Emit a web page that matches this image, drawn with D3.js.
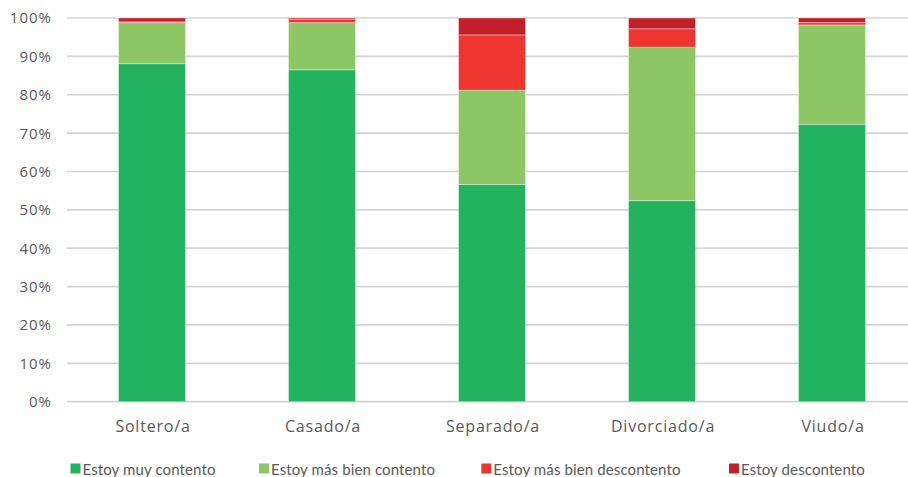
<!DOCTYPE html>
<html>
<head>
<meta charset="utf-8">
<script src="https://cdn.jsdelivr.net/npm/d3@7"></script>
<style>
	body { margin: 0; background: #fff; }
	svg { display: block; }
</style>
</head>
<body>
<div id="chart"></div>
<script>
const categories = ["Soltero/a", "Casado/a", "Separado/a", "Divorciado/a", "Viudo/a"];
const seriesNames = ["Estoy muy contento", "Estoy más bien contento", "Estoy más bien descontento", "Estoy descontento"];
const muyContento = [88.1, 86.5, 56.6, 52.4, 72.3];
const masBienContento = [10.7, 12.3, 24.6, 40.0, 25.9];
const masBienDescontento = [0.2, 0.9, 14.4, 4.8, 0.6];
const descontento = [1.0, 0.3, 4.4, 2.8, 1.2];
const yTicks = [0, 10, 20, 30, 40, 50, 60, 70, 80, 90, 100];
const colors = ["#23b35f", "#8cc665", "#ee3530", "#c1202a"];

(function() {
	const width = 908, height = 477;
	const svg = d3.select("#chart").append("svg").attr("width", width).attr("height", height);

	const rows = categories.map((c, i) => ({
		cat: c,
		[seriesNames[0]]: muyContento[i],
		[seriesNames[1]]: masBienContento[i],
		[seriesNames[2]]: masBienDescontento[i],
		[seriesNames[3]]: descontento[i]
	}));

	const x = d3.scaleBand().domain(categories).range([67, 917]).paddingInner(0.606).paddingOuter(0.303);
	const y = d3.scaleLinear().domain([0, 100]).range([401.7, 18]);
	const color = d3.scaleOrdinal().domain(seriesNames).range(colors);

	// gridlines
	svg.append("g").selectAll("line").data(yTicks).join("line")
		.attr("x1", 67).attr("x2", width)
		.attr("y1", d => y(d)).attr("y2", d => y(d))
		.attr("stroke", "#d4d4d4").attr("stroke-width", 1.7);

	svg.append("g").selectAll("text").data(yTicks).join("text")
		.attr("x", 52).attr("y", d => y(d)).attr("dy", "0.36em")
		.attr("text-anchor", "end")
		.attr("font-family", "Open Sans").attr("font-size", 15).attr("letter-spacing", 1)
		.attr("fill", "#595959")
		.text(d => d + "%");

	const stacked = d3.stack().keys(seriesNames)(rows);

	svg.append("g").selectAll("g").data(stacked).join("g")
		.attr("fill", d => color(d.key))
		.selectAll("rect").data(d => d).join("rect")
		.attr("x", d => x(d.data.cat))
		.attr("width", x.bandwidth())
		.attr("y", d => y(d[1]))
		.attr("height", d => y(d[0]) - y(d[1]))
		.attr("stroke", "#ffffff").attr("stroke-opacity", 0.35).attr("stroke-width", 1);

	svg.append("g").selectAll("text").data(categories).join("text")
		.attr("x", d => x(d) + x.bandwidth() / 2 + 1).attr("y", 432)
		.attr("text-anchor", "middle")
		.attr("font-family", "Open Sans").attr("font-size", 16).attr("letter-spacing", 0.8)
		.attr("fill", "#595959")
		.text(d => d);

	// legend
	const legendX = [82.5, 271, 493.3, 741];
	const lg = svg.append("g").selectAll("g").data(seriesNames).join("g")
		.attr("transform", (d, i) => `translate(${legendX[i]},0)`);
	lg.append("rect").attr("x", -12).attr("y", 463.5).attr("width", 10).attr("height", 10)
		.attr("fill", d => color(d));
	lg.append("text").attr("x", 0).attr("y", 475)
		.attr("font-family", "Lato").attr("font-size", 15).attr("letter-spacing", 0.12)
		.attr("fill", "#595959")
		.text(d => d);
})();
</script>
</body>
</html>
